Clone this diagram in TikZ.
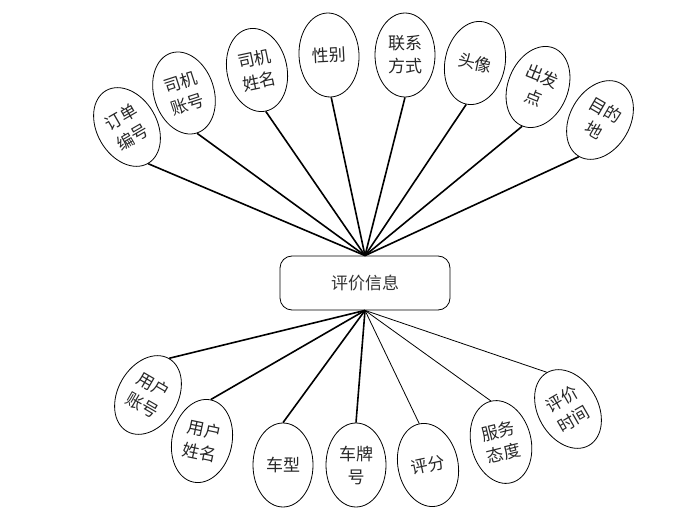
\documentclass[tikz,border=0pt]{standalone}
\usepackage{fontspec}
\setmainfont{Noto Sans CJK SC}
\usetikzlibrary{shapes.geometric}
\begin{document}
\begin{tikzpicture}[x=1pt,y=-1pt,
  attr/.style={draw, ellipse, line width=0.8pt, minimum width=60pt, minimum height=84pt, inner sep=0pt, align=center, font=\fontsize{17}{23}\selectfont, text=black!85},
  hub/.style={draw, rounded corners=12pt, line width=0.8pt, minimum width=170pt, minimum height=54pt, font=\fontsize{17}{23}\selectfont, text=black!80},
  thickline/.style={line width=1.6pt},
  thinline/.style={line width=0.8pt}]
\useasboundingbox (0,0) rectangle (692,518);
\node[hub] (box) at (365,283) {评价信息};
% top attributes
\node[attr, rotate=30] (a1) at (127,127) {订单\\编号};
\node[attr, rotate=18] (a2) at (184,93) {司机\\账号};
\node[attr, rotate=12] (a3) at (257,70) {司机\\姓名};
\node[attr, rotate=3] (a4) at (329,55) {性别};
\node[attr, rotate=0] (a5) at (405,55) {联系\\方式};
\node[attr, rotate=-12] (a6) at (475,63) {头像};
\node[attr, rotate=-22] (a7) at (538,87) {出发\\点};
\node[attr, rotate=-30] (a8) at (600,120) {目的\\地};
% bottom attributes
\node[attr, rotate=-30] (b1) at (148,395) {用户\\账号};
\node[attr, rotate=-12] (b2) at (202,441) {用户\\姓名};
\node[attr, rotate=0] (b3) at (283,465) {车型};
\node[attr, rotate=0] (b4) at (356,465) {车牌\\号};
\node[attr, rotate=12] (b5) at (428,465) {评分};
\node[attr, rotate=14] (b6) at (501,442) {服务\\态度};
\node[attr, rotate=30] (b7) at (568,409) {评价\\时间};
% connectors
\foreach \n in {a1,a2,a3,a4,a5,a6,a7,a8}
  \draw[thickline] (box.north) -- (\n.south);
\foreach \n in {b1,b2,b3,b4}
  \draw[thickline] (box.south) -- (\n.north);
\foreach \n in {b5,b6,b7}
  \draw[thinline] (box.south) -- (\n.north);
\end{tikzpicture}
\end{document}
